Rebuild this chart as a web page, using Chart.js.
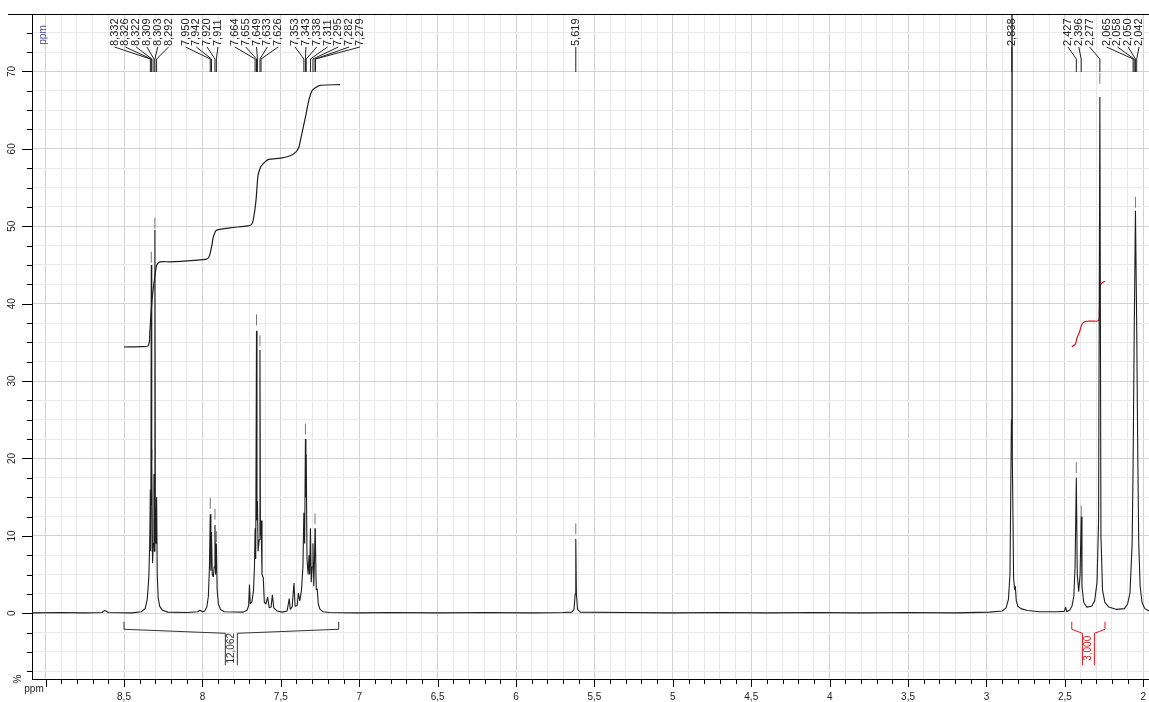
<!DOCTYPE html>
<html>
<head>
<meta charset="utf-8">
<script src="https://cdn.jsdelivr.net/npm/chart.js@4.4.0/dist/chart.umd.min.js"></script>
<style>
  html, body { margin: 0; padding: 0; background: #fff; }
  canvas { display: block; }
</style>
</head>
<body>
<canvas id="espectro" width="1149" height="702"></canvas>
<script>
// Espectro 1H (desplazamiento en ppm, intensidad en %)
const specPpm = [
  9.087, 8.90, 8.75, 8.64, 8.625, 8.615, 8.60, 8.45, 8.39, 8.365, 8.352, 8.342, 8.336, 8.332, 8.329, 8.326, 8.324, 8.322, 8.318, 8.313, 8.309, 8.306, 8.303, 8.300, 8.296, 8.292, 8.288, 8.282, 8.272, 8.255, 8.22,
  8.10, 8.03, 8.015, 8.0, 7.985, 7.972, 7.962, 7.955, 7.950, 7.946, 7.942, 7.937, 7.930, 7.925, 7.920, 7.916, 7.911, 7.906, 7.898, 7.885, 7.86,
  7.74, 7.715, 7.705, 7.700, 7.695, 7.684, 7.674, 7.668, 7.664, 7.660, 7.655, 7.652, 7.649, 7.645, 7.638, 7.633, 7.630, 7.626, 7.620, 7.612, 7.605, 7.595, 7.584, 7.574, 7.562, 7.554, 7.545, 7.525, 7.49,
  7.46, 7.446, 7.440, 7.428, 7.416, 7.409, 7.396, 7.388, 7.379, 7.368, 7.359, 7.353, 7.348, 7.343, 7.340, 7.338, 7.333, 7.326, 7.320, 7.316, 7.311, 7.306, 7.300, 7.295, 7.290, 7.285, 7.282, 7.2805, 7.279, 7.274, 7.268, 7.261, 7.25, 7.23, 7.19,
  7.0, 6.8, 6.5, 6.2, 5.9, 5.70, 5.645, 5.630, 5.623, 5.619, 5.615, 5.608, 5.59, 5.3, 5.0, 4.7, 4.4, 4.1, 3.8, 3.5, 3.2, 2.98,
  2.90, 2.875, 2.86, 2.85, 2.841, 2.838, 2.835, 2.827, 2.820, 2.816, 2.810, 2.80, 2.78, 2.74, 2.66, 2.55,
  2.505, 2.495, 2.489, 2.47, 2.455, 2.443, 2.435, 2.427, 2.421, 2.412, 2.403, 2.396, 2.391, 2.38, 2.36, 2.33, 2.31, 2.295, 2.285, 2.277, 2.270, 2.26, 2.245, 2.22, 2.17, 2.12, 2.10, 2.085, 2.071, 2.065, 2.058, 2.050, 2.042, 2.035, 2.029, 2.02, 2.008, 1.99, 1.964
];
const specInt = [
  0.05, 0.1, 0.05, 0.1, 0.35, 0.3, 0.1, 0.05, 0.2, 0.6, 1.8, 4.5, 9, 16, 8, 45, 14, 20, 6.5, 9, 18, 8, 49.5, 11, 9, 15, 5, 2, 0.9, 0.4, 0.15,
  0.1, 0.2, 0.4, 0.2, 0.3, 0.8, 2.2, 6, 12.8, 5.5, 10.5, 5, 4.7, 6, 11.4, 5, 9, 3, 1.2, 0.5, 0.2,
  0.15, 0.4, 1, 3.7, 1.2, 1.5, 3, 6, 11, 7, 36.5, 12, 14.5, 8, 9.5, 34, 10, 12, 5, 4.6, 1.4, 1.2, 2.1, 0.7, 0.8, 2.4, 0.7, 0.3, 0.15,
  0.3, 1.9, 0.5, 0.8, 3.9, 0.9, 1, 2.6, 1.6, 3, 6, 13, 9, 22.5, 15, 20.5, 7, 5, 7.5, 5, 11, 4, 6, 9, 3.5, 7, 11, 8, 10, 3, 3.2, 1.2, 0.5, 0.2, 0.1,
  0.05, 0.1, 0.05, 0.1, 0.05, 0.1, 0.15, 0.5, 2.5, 9.6, 2.5, 0.5, 0.15, 0.1, 0.05, 0.1, 0.05, 0.1, 0.05, 0.1, 0.05, 0.15,
  0.3, 0.7, 1.8, 5, 25, 140, 20, 4.5, 3, 3.5, 1.6, 0.9, 0.6, 0.35, 0.2, 0.2,
  0.25, 0.8, 0.2, 0.4, 0.9, 2.2, 6, 17.5, 5, 2.8, 5, 12.5, 3.5, 1.4, 0.8, 0.9, 1.6, 4, 12, 66.7, 10, 3, 1.4, 0.8, 0.5, 0.6, 1.2, 2.6, 9, 19, 36, 52, 37, 20, 9, 3.5, 1.4, 0.6, 0.3
];

// curva de integracion (negra) de la zona aromatica
const integPpm = [8.50, 8.40, 8.345, 8.335, 8.321, 8.302, 8.291, 8.27, 8.207, 8.05, 7.973, 7.960, 7.952, 7.940, 7.932, 7.920, 7.909, 7.824, 7.709, 7.684, 7.670, 7.658, 7.645, 7.630, 7.620, 7.582, 7.50, 7.441, 7.403, 7.385, 7.378, 7.36, 7.339, 7.320, 7.301, 7.280, 7.250, 7.122];
const integVal = [34.4, 34.45, 34.6, 36.5, 40.5, 43.7, 45.0, 45.4, 45.4, 45.6, 45.75, 46.0, 46.4, 47.5, 48.5, 49.2, 49.5, 49.8, 50.05, 50.3, 51.5, 53.4, 56.6, 57.6, 57.9, 58.6, 58.8, 59.1, 59.6, 60.2, 60.8, 62.5, 64.5, 66.4, 67.5, 67.9, 68.2, 68.3];

// curva de integracion (roja) del singulete de referencia
const refPpm = [2.456, 2.435, 2.422, 2.414, 2.407, 2.392, 2.371, 2.33, 2.286, 2.280, 2.276, 2.265, 2.244];
const refVal = [34.45, 34.7, 35.6, 36.0, 36.3, 37.3, 37.7, 37.75, 37.8, 38.8, 42.2, 42.65, 42.9];

// marcas de pico (rayitas sobre las puntas)
const marcaPpm = [8.326, 8.303, 8.322, 7.950, 7.920, 7.911, 7.655, 7.633, 7.343, 7.282, 5.619, 2.427, 2.396, 2.277, 2.050];
const marcaVal = [46.0, 50.4, 20.5, 14.2, 12.8, 9.9, 37.9, 35.2, 23.8, 12.2, 10.9, 18.8, 13.2, 69.1, 53.1];

// picos etiquetados arriba
const picosPpm = [8.332, 8.326, 8.322, 8.309, 8.303, 8.292, 7.950, 7.942, 7.920, 7.911, 7.664, 7.655, 7.649, 7.633, 7.626,
  7.353, 7.343, 7.338, 7.311, 7.295, 7.282, 7.279, 5.619, 2.838, 2.427, 2.396, 2.277, 2.065, 2.058, 2.050, 2.042];
const picosTexto = picosPpm.map(v => v.toFixed(3).replace('.', ','));

// integrales (rango en ppm y valor)
const integDesde = [8.5, 2.456];
const integHasta = [7.131, 2.244];
const integTexto = ['12,062', '3,000'];
const integColor = ['#333333', '#e3141c'];

const FUENTE = '"Liberation Sans", Arial, sans-serif';

const esMultiplo = (v, m) => Math.abs(v / m - Math.round(v / m)) < 1e-6;

// reparte las etiquetas de picos para que no se encimen
function repartirEtiquetas(px, xmin, xmax) {
  const SEP = 10.8, HUECO = 17;
  let bloques = [];
  picosPpm.forEach((p, i) => {
    const ult = bloques[bloques.length - 1];
    if (ult && Math.abs(picosPpm[i - 1] - p) < 0.15) {
      ult.idx.push(i);
      ult.off.push(ult.off[ult.off.length - 1] + SEP);
    } else {
      bloques.push({ idx: [i], off: [0] });
    }
  });
  const colocar = b => {
    const x0 = b.idx.reduce((a, i, k) => a + px[i] - b.off[k], 0) / b.idx.length;
    const ancho = b.off[b.off.length - 1];
    b.x0 = Math.min(Math.max(x0, xmin), xmax - ancho);
    b.fin = b.x0 + ancho;
  };
  bloques.forEach(colocar);
  let cambio = true;
  while (cambio) {
    cambio = false;
    for (let j = 0; j < bloques.length - 1; j++) {
      const a = bloques[j], b = bloques[j + 1];
      if (a.fin + HUECO > b.x0) {
        const base = a.off[a.off.length - 1] + HUECO;
        a.idx = a.idx.concat(b.idx);
        a.off = a.off.concat(b.off.map(o => o + base));
        colocar(a);
        bloques.splice(j + 1, 1);
        cambio = true;
        break;
      }
    }
  }
  const out = [];
  bloques.forEach(b => b.idx.forEach((i, k) => { out[i] = b.x0 + b.off[k]; }));
  return out;
}

// dibujos extra: etiquetas de picos, llaves de integracion, marcas de ejes
const anotaciones = {
  id: 'anotaciones',
  afterDatasetsDraw(chart) {
    const { ctx, chartArea: area, scales: { x, y } } = chart;
    ctx.save();

    // etiquetas de picos
    const px = picosPpm.map(v => x.getPixelForValue(v));
    const lx = repartirEtiquetas(px, area.left + 10, area.right - 10);
    ctx.strokeStyle = '#222';
    ctx.fillStyle = '#222';
    ctx.lineWidth = 1;
    ctx.font = '11px ' + FUENTE;
    picosPpm.forEach((p, i) => {
      ctx.beginPath();
      ctx.moveTo(lx[i], area.top + 33);
      ctx.lineTo(px[i], area.top + 45);
      ctx.lineTo(px[i], area.top + 58);
      ctx.stroke();
      ctx.save();
      ctx.translate(lx[i], area.top + 32);
      ctx.rotate(-Math.PI / 2);
      ctx.textAlign = 'left';
      ctx.textBaseline = 'middle';
      ctx.fillText(picosTexto[i], 0, 0);
      ctx.restore();
    });

    // llaves de integracion
    const y0 = y.getPixelForValue(0);
    integDesde.forEach((a, k) => {
      const xa = x.getPixelForValue(a), xb = x.getPixelForValue(integHasta[k]);
      const xm = (xa + xb) / 2;
      ctx.strokeStyle = integColor[k];
      ctx.fillStyle = integColor[k];
      ctx.beginPath();
      ctx.moveTo(xa, y0 + 8.5); ctx.lineTo(xa, y0 + 16); ctx.lineTo(xm - 6, y0 + 20); ctx.lineTo(xm - 6, y0 + 52);
      ctx.moveTo(xb, y0 + 8.5); ctx.lineTo(xb, y0 + 16); ctx.lineTo(xm + 6, y0 + 20); ctx.lineTo(xm + 6, y0 + 52);
      ctx.stroke();
      ctx.save();
      ctx.translate(xm, y0 + 35);
      ctx.rotate(-Math.PI / 2);
      ctx.font = '10px ' + FUENTE;
      ctx.textAlign = 'center';
      ctx.textBaseline = 'middle';
      ctx.fillText(integTexto[k], 0, 0);
      ctx.restore();
    });
    ctx.restore();
  },
  afterDraw(chart) {
    const { ctx, chartArea: area, scales: { x, y } } = chart;
    ctx.save();
    ctx.strokeStyle = '#000';
    ctx.lineWidth = 1;
    ctx.beginPath();
    // linea superior del marco
    ctx.moveTo(area.left - 24, Math.round(area.top) + 0.5);
    ctx.lineTo(chart.width, Math.round(area.top) + 0.5);
    // marcas del eje x
    x.ticks.forEach(t => {
      const p = Math.round(x.getPixelForValue(t.value)) + 0.5;
      ctx.moveTo(p, area.bottom);
      ctx.lineTo(p, area.bottom + (esMultiplo(t.value, 0.5) ? 8 : 5));
    });
    // marcas del eje y
    y.ticks.forEach(t => {
      const p = Math.round(y.getPixelForValue(t.value)) + 0.5;
      ctx.moveTo(area.left, p);
      ctx.lineTo(area.left - (esMultiplo(t.value, 10) ? 10 : 5), p);
    });
    ctx.stroke();

    // textos de unidades
    ctx.fillStyle = '#222';
    ctx.font = '10px ' + FUENTE;
    ctx.textAlign = 'center';
    ctx.textBaseline = 'middle';
    ctx.fillText('ppm', area.left + 2, area.bottom + 10);
    ctx.save();
    ctx.translate(area.left - 14, area.bottom);
    ctx.rotate(-Math.PI / 2);
    ctx.fillText('%', 0, 0);
    ctx.restore();
    ctx.save();
    ctx.fillStyle = '#4a4a9c';
    ctx.translate(area.left + 11, area.top + 21);
    ctx.rotate(-Math.PI / 2);
    ctx.fillText('ppm', 0, 0);
    ctx.restore();
    ctx.restore();
  }
};

const colorRejilla = (v, m) => (esMultiplo(v, m) ? '#d2d2d2' : '#e9e9e9');

new Chart(document.getElementById('espectro'), {
  type: 'line',
  data: {
    datasets: [
      {
        data: specPpm.map((p, i) => ({ x: p, y: specInt[i] })),
        borderColor: '#1e1e1e',
        borderWidth: 1.1,
        borderJoinStyle: 'bevel',
        pointRadius: 0,
        tension: 0
      },
      {
        data: integPpm.map((p, i) => ({ x: p, y: integVal[i] })),
        borderColor: '#1e1e1e',
        borderWidth: 1.2,
        pointRadius: 0,
        tension: 0.3
      },
      {
        data: refPpm.map((p, i) => ({ x: p, y: refVal[i] })),
        borderColor: '#d8141c',
        borderWidth: 1.2,
        pointRadius: 0,
        tension: 0.3
      },
      {
        data: marcaPpm.map((p, i) => ({ x: p, y: marcaVal[i] })),
        showLine: false,
        pointStyle: 'line',
        rotation: 90,
        pointRadius: 5.5,
        borderColor: '#777',
        borderWidth: 1
      }
    ]
  },
  options: {
    responsive: false,
    animation: false,
    devicePixelRatio: 1,
    layout: { autoPadding: false, padding: { top: 14, left: 0, right: 0, bottom: 0 } },
    plugins: { legend: { display: false }, tooltip: { enabled: false } },
    scales: {
      x: {
        type: 'linear',
        reverse: true,
        min: 1.9636,
        max: 9.0867,
        afterFit: s => { s.height = 23; s.paddingLeft = 0; s.paddingRight = 0; },
        grid: {
          color: c => colorRejilla(c.tick.value, 0.5),
          drawTicks: false
        },
        border: { color: '#000', width: 1 },
        ticks: {
          stepSize: 0.1,
          includeBounds: false,
          autoSkip: false,
          minRotation: 0,
          maxRotation: 0,
          padding: 12,
          color: '#222',
          font: { family: FUENTE, size: 10 },
          callback: v => (esMultiplo(v, 0.5) && v < 8.95 ? String(+v.toFixed(1)).replace('.', ',') : '')
        }
      },
      y: {
        min: -8.49,
        max: 77.42,
        afterFit: s => { s.width = 32; s.paddingTop = 0; s.paddingBottom = 0; },
        grid: {
          color: c => colorRejilla(c.tick.value, 10),
          drawTicks: false
        },
        border: { color: '#000', width: 1 },
        ticks: {
          stepSize: 2.5,
          includeBounds: false,
          minRotation: 90,
          maxRotation: 90,
          crossAlign: 'center',
          padding: 14,
          color: '#222',
          font: { family: FUENTE, size: 10 },
          callback: v => (esMultiplo(v, 10) ? String(v) : '')
        }
      }
    }
  },
  plugins: [anotaciones]
});
</script>
</body>
</html>
